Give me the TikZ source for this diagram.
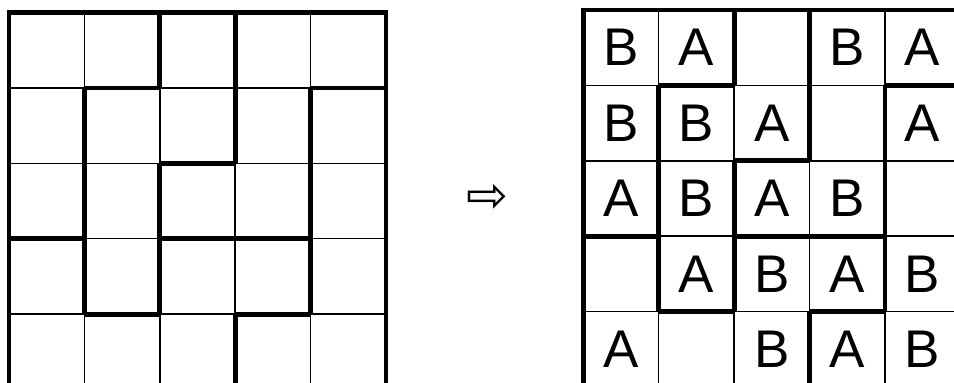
\documentclass[tikz,border=0pt]{standalone}
\usepackage{fontspec}
\setmainfont{Liberation Sans}
\newfontfamily\arrowfont{DejaVu Sans}
\begin{document}
\begin{tikzpicture}[x=1pt, y=-1pt,
    gridline/.style={line width=1.5pt},
    wall/.style={line width=4.8pt, line cap=square},
    letter/.style={font=\fontsize{53}{53}\selectfont, inner sep=0pt}]
  \clip (0,0) rectangle (954,383);
  % two copies of the same 5x5 board
  \foreach \gx/\gy in {9/12.5, 583.3/10} {
    \begin{scope}[shift={(\gx,\gy)}, x=75.4pt, y=-75.4pt]
      \foreach \i in {0,...,5} {
        \draw[gridline] (\i,0) -- (\i,5);
        \draw[gridline] (0,\i) -- (5,\i);
      }
      \foreach \r/\c in {1/1,1/4,2/2,3/0,3/2,3/3,4/1,4/3}
        \draw[wall] (\c,\r) -- (\c+1,\r);
      \foreach \c/\r in {1/1,1/2,1/3,2/0,2/2,2/3,3/0,3/1,3/4,4/1,4/2,4/3}
        \draw[wall] (\c,\r) -- (\c,\r+1);
      \draw[wall] (0,0) rectangle (5,5);
    \end{scope}
  }
  % filled board
  \begin{scope}[shift={(583.3,10)}, x=75.4pt, y=-75.4pt]
    \foreach \r/\c/\t in {0/0/B,0/1/A,0/3/B,0/4/A,
                          1/0/B,1/1/B,1/2/A,1/4/A,
                          2/0/A,2/1/B,2/2/A,2/3/B,
                          3/1/A,3/2/B,3/3/A,3/4/B,
                          4/0/A,4/2/B,4/3/A,4/4/B}
      \node[letter] (l-\r-\c) at (\c+0.5,\r+0.5) {\t};
  \end{scope}
  \node[font=\arrowfont\fontsize{50}{50}\selectfont, inner sep=0pt] (arrow) at (487,198) {⇨};
\end{tikzpicture}
\end{document}
